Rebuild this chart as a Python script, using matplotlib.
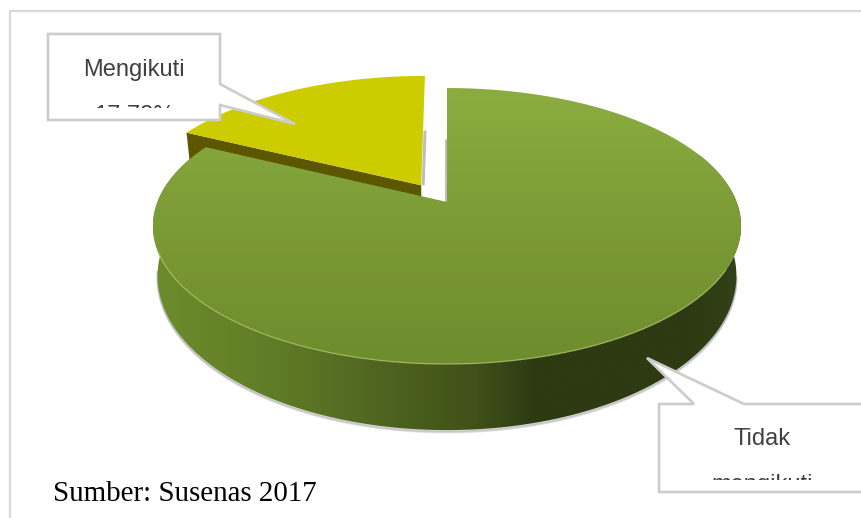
import numpy as np
import matplotlib
matplotlib.use('Agg')
import matplotlib.pyplot as plt
from matplotlib.colors import LinearSegmentedColormap
from matplotlib.patches import Polygon, Rectangle

labels = ['Mengikuti', 'Tidak\nmengikuti']
shares = [17.72, 82.28]
source_note = 'Sumber: Susenas 2017'

# projection of the pie disc, in pixels
CX = 447
TOP_Y, BASE_Y = 202, 249
TOP_K, BASE_K = 133.8, 149.6
TOP_D, BASE_D = 289.6, 285.0
PERSP = 0.174
EXPLODE = 0.15


def project(u, v, base=False):
	y0, k, d = (BASE_Y, BASE_K, BASE_D) if base else (TOP_Y, TOP_K, TOP_D)
	w = 1 + PERSP * v
	return np.column_stack([CX + d * u / w, y0 - k * v / w])


def arc(a0, a1, shift=(0, 0), base=False, n=240):
	# angles run clockwise from twelve o'clock, in degrees
	a = np.radians(np.linspace(a0, a1, n))
	return project(np.sin(a) + shift[0], np.cos(a) + shift[1], base)


def gradientFill(ax, pts, stops, horizontal, extent, z):
	cmap = LinearSegmentedColormap.from_list('g', stops)
	ramp = np.linspace(0, 1, 512)
	ramp = ramp[None, :] if horizontal else ramp[:, None]
	im = ax.imshow(ramp, cmap=cmap, extent=extent, aspect='auto', zorder=z, origin='upper')
	im.set_clip_path(Polygon(pts, closed=True, transform=ax.transData))


def callout(ax, outline, box, text, text_x, text_y):
	x0, y0, x1, y1 = box
	ax.add_patch(Polygon(outline, closed=True, fc='white', ec='#CCCCCC', lw=1.9, zorder=10))
	t = ax.text(text_x, text_y, text, ha='center', va='top', fontsize=17, color='#404040',
		family='Liberation Sans', linespacing=2.4, zorder=11)
	# the text box is too short for its lines, so the last one gets cut
	t.set_clip_path(Rectangle((x0, y0), x1 - x0, y1 - y0 - 12, transform=ax.transData))
	t.set_clip_on(True)


fig = plt.figure(figsize=(8.61, 5.18), dpi=100)
ax = fig.add_axes([0, 0, 1, 1])
ax.set_xlim(0, 861)
ax.set_ylim(518, 0)
ax.axis('off')

# chart frame, open to the right and the bottom
ax.plot([9.5, 9.5, 861], [518, 10.5, 10.5], color='#D9D9D9', lw=1.6, zorder=1)

sweep = shares[0] * 3.6
mid = np.radians(sweep / 2)
shift = (-np.sin(mid) * EXPLODE * 1.15, np.cos(mid) * EXPLODE)

# soft shadow under the disc
shadow = arc(100, 262, base=True)
for i in range(5):
	ax.plot(shadow[:, 0], shadow[:, 1] + 0.5 + i * 0.5, color='#777777', alpha=0.13, lw=1.4, zorder=2)

# side wall of the large slice
top_rim = arc(68, 292)
base_rim = arc(68, 292, base=True)
wall = np.vstack([top_rim, base_rim[::-1]])
wall_stops = [(0.0, '#6C8C2C'), (0.2, '#5F7D27'), (0.4, '#4E631F'), (0.55, '#3F5119'),
	(0.65, '#2D3A12'), (0.92, '#2D3A12'), (1.0, '#33421A')]
gradientFill(ax, wall, wall_stops, True, [153, 741, 518, 0], 3)

# exploded small slice: cut wall first, the large slice hides its lower part
edge_top = np.vstack([project(np.array([shift[0]]), np.array([shift[1]])), arc(360 - sweep, 360 - sweep, shift, n=1)])
edge_base = np.vstack([project(np.array([shift[0]]), np.array([shift[1]]), True), arc(360 - sweep, 360 - sweep, shift, True, n=1)])
ax.add_patch(Polygon(np.vstack([edge_top, edge_base[::-1]]), closed=True, fc='#5C5600', ec='none', zorder=4))
small_face = np.vstack([edge_top[0], arc(360 - sweep, 360, shift)])
ax.add_patch(Polygon(small_face, closed=True, fc='#CCCC00', ec='none', zorder=5))

# shadows along the two inner cut faces
for frac1, base_pt, lim, dx in [(0.5, edge_top[0], arc(360, 360, shift, n=1)[0], 2.0),
	(0.55, project(np.array([0.0]), np.array([0.0]))[0], arc(0, 0, n=1)[0], -1.5)]:
	p1 = base_pt + (lim - base_pt) * frac1
	ax.plot([base_pt[0] + dx, p1[0] + dx], [base_pt[1], p1[1]], color='#A8A8A8', lw=2.2, alpha=0.75, zorder=4, solid_capstyle='butt')

# top face of the large slice
large_face = np.vstack([project(np.array([0.0]), np.array([0.0])), arc(0, 360 - sweep)])
face_stops = [(0.0, '#8BAD40'), (0.5, '#7B9B35'), (1.0, '#6D8C2D')]
gradientFill(ax, large_face, face_stops, False, [153, 741, 364, 88], 6)

# light rim along the front edge of the face
rim = arc(118, 250)
ax.plot(rim[:, 0], rim[:, 1], color='#A3BE62', lw=1.0, alpha=0.75, zorder=7)

small_label = labels[0] + '\n' + ('%.2f%%' % shares[0]).replace('.', ',')
callout(ax, [(48, 34), (220, 34), (220, 84), (295, 124), (220, 105), (220, 120), (48, 120)],
	(48, 34, 220, 120), small_label, 134, 59)
callout(ax, [(659, 404), (694, 404), (647, 358), (744, 404), (875, 404), (875, 492), (659, 492)],
	(659, 404, 875, 492), labels[1], 762, 428)

ax.text(53, 501, source_note, ha='left', va='baseline', fontsize=20.9, color='black', family='Liberation Serif', zorder=11)

fig.savefig('out.png', dpi=100)
